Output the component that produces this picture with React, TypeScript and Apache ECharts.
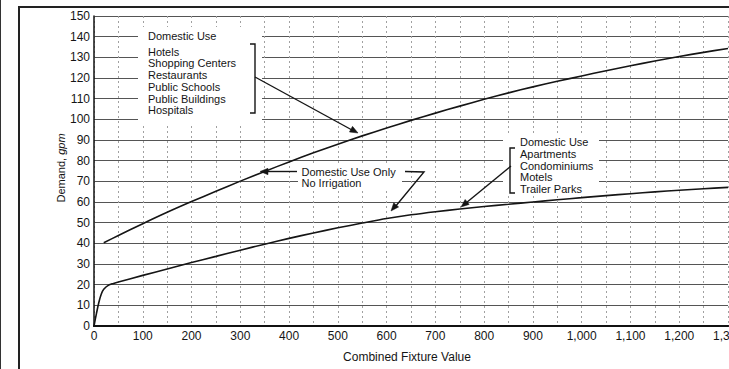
import React, { useEffect, useRef } from "react";
import * as echarts from "echarts";

const upperX = [20, 50, 100, 150, 200, 250, 300, 350, 400, 450, 500, 550, 600, 650, 700, 750, 800, 850, 900, 950, 1000, 1050, 1100, 1150, 1200, 1250, 1300];
const upperY = [40.3, 43.8, 49.5, 55, 60.2, 65.2, 70.1, 74.8, 79.4, 83.8, 88, 92, 95.8, 99.5, 103, 106.4, 109.7, 112.8, 115.7, 118.4, 121, 123.5, 125.9, 128.2, 130.4, 132.4, 134.3];

const lowerX = [0, 5, 10, 15, 20, 30, 40, 50, 100, 150, 200, 250, 300, 350, 400, 450, 500, 550, 600, 650, 700, 750, 800, 850, 900, 950, 1000, 1050, 1100, 1150, 1200, 1250, 1300];
const lowerY = [0, 6, 11.5, 15.5, 17.8, 19.8, 20.6, 21.3, 24.5, 27.6, 30.7, 33.7, 36.7, 39.6, 42.4, 45, 47.5, 49.8, 52, 53.8, 55.3, 56.6, 57.8, 58.9, 60, 61.1, 62.1, 63.1, 64, 64.9, 65.7, 66.4, 67.1];

const leftGroup = ["Domestic Use", "Hotels", "Shopping Centers", "Restaurants", "Public Schools", "Public Buildings", "Hospitals"];
const rightGroup = ["Domestic Use", "Apartments", "Condominiums", "Motels", "Trailer Parks"];
const middleLabel = ["Domestic Use Only", "No Irrigation"];

const FONT = "'Liberation Sans', Arial, Helvetica, sans-serif";
const INK = "#151515";

function arrowHead(x1: number, y1: number, x2: number, y2: number) {
  const ang = Math.atan2(y2 - y1, x2 - x1);
  const len = 8, half = 3.2;
  const bx = x2 - Math.cos(ang) * len, by = y2 - Math.sin(ang) * len;
  const px = -Math.sin(ang) * half, py = Math.cos(ang) * half;
  return {
    type: "polygon", z: 20,
    shape: { points: [[x2, y2], [bx + px, by + py], [bx - px, by - py]] },
    style: { fill: INK, stroke: INK, lineWidth: 0.5 },
  };
}
function seg(pts: number[][], w = 1.4) {
  return { type: "polyline", z: 20, shape: { points: pts }, style: { stroke: INK, lineWidth: w, fill: null } };
}
function txt(x: number, y: number, text: string, size = 11) {
  return {
    type: "text", z: 25, x, y,
    style: { text, fill: INK, font: `${size}px ${FONT}`, textAlign: "left", textVerticalAlign: "middle" },
  };
}
function white(x: number, y: number, w: number, h: number) {
  return { type: "rect", z: 1, shape: { x, y, width: w, height: h }, style: { fill: "#fff" } };
}

export default function App() {
  const ref = useRef<HTMLDivElement>(null);
  useEffect(() => {
    if (!ref.current) return;
    const chart = echarts.init(ref.current, null, { renderer: "svg" });
    const graphics: any[] = [
      { type: "line", z: 30, shape: { x1: 0.5, y1: 0, x2: 0.5, y2: 369 }, style: { stroke: "#333", lineWidth: 1 } },
      { type: "line", z: 30, shape: { x1: 19, y1: 6, x2: 19, y2: 369 }, style: { stroke: "#222", lineWidth: 2 } },
      { type: "line", z: 30, shape: { x1: 18, y1: 7, x2: 729, y2: 7 }, style: { stroke: "#222", lineWidth: 2 } },
      white(138, 27, 124, 98),
      white(503, 133, 96, 61),
      white(298, 164, 104, 24),
      seg([[250, 44], [255, 44], [255, 113], [250, 113]], 1.4),
      seg([[515, 148], [510, 148], [510, 193], [515, 193]], 1.4),
      seg([[255, 77], [352, 130]]),
      arrowHead(255, 77, 358, 133),
      seg([[297, 171.5], [266, 171.5]]),
      arrowHead(297, 171.5, 260, 171.5),
      seg([[405, 171.5], [424, 172], [395, 207]]),
      arrowHead(424, 172, 391, 211),
      seg([[511, 166], [466, 203]]),
      arrowHead(511, 166, 461, 207),
      {
        type: "text", z: 25, x: 61, y: 168, rotation: Math.PI / 2,
        style: {
          text: "{n|Demand, }{i|gpm}", textAlign: "center", textVerticalAlign: "middle",
          rich: {
            n: { fontSize: 11, fontFamily: FONT, fill: INK, color: INK },
            i: { fontSize: 11, fontFamily: FONT, fontStyle: "italic", fill: INK, color: INK },
          },
        },
      },
      {
        type: "text", z: 25, x: 407, y: 357,
        style: { text: "Combined Fixture Value", fill: INK, font: `12px ${FONT}`, textAlign: "center", textVerticalAlign: "middle" },
      },
    ];
    const leftYs = [35.7, 51.7, 63.3, 75, 86.7, 98.7, 110];
    leftGroup.forEach((t, i) => graphics.push(txt(148, leftYs[i], t)));
    const rightYs = [141.7, 154.3, 165.7, 177.3, 188.7];
    rightGroup.forEach((t, i) => graphics.push(txt(520, rightYs[i], t)));
    middleLabel.forEach((t, i) => graphics.push(txt(301.5, 171.7 + i * 10.8, t)));

    chart.setOption({
      animation: false,
      grid: { left: 94, top: 16, width: 634, height: 310, containLabel: false, outerBoundsMode: "none" },
      xAxis: [
        {
          type: "value", min: 0, max: 1300, interval: 50,
          axisLine: { show: true, onZero: false, lineStyle: { color: "#111", width: 2 } },
          axisTick: { show: false },
          axisLabel: {
            margin: 4, color: INK, fontSize: 12, fontFamily: FONT, hideOverlap: false,
            formatter: (v: number) => (v % 100 === 0 ? v.toLocaleString("en-US") : ""),
          },
          splitLine: { show: true, lineStyle: { color: "#a0a0a0", width: 1, type: [2, 3] } },
        },
        {
          type: "value", position: "top", min: 0, max: 1300,
          axisLine: { show: true, lineStyle: { color: "#111", width: 2 } },
          axisTick: { show: false }, axisLabel: { show: false }, splitLine: { show: false },
        },
      ],
      yAxis: {
        type: "value", min: 0, max: 150, interval: 10,
        axisLine: { show: true, onZero: false, lineStyle: { color: "#111", width: 1.5 } },
        axisTick: { show: false },
        axisLabel: { margin: 4, color: INK, fontSize: 12, fontFamily: FONT },
        splitLine: { show: true, lineStyle: { color: "#555", width: 1 } },
      },
      series: [
        {
          type: "line", xAxisIndex: 0, showSymbol: false, symbol: "none", smooth: 0.3,
          data: upperX.map((x, i) => [x, upperY[i]]),
          lineStyle: { color: INK, width: 1.6 }, z: 5,
        },
        {
          type: "line", xAxisIndex: 0, showSymbol: false, symbol: "none", smooth: 0.3,
          data: lowerX.map((x, i) => [x, lowerY[i]]),
          lineStyle: { color: INK, width: 1.6 }, z: 5,
        },
      ],
      graphic: graphics,
    });
    return () => chart.dispose();
  }, []);
  return (
    <div
      ref={ref}
      style={{ position: "fixed", left: 0, top: 0, width: 729, height: 369, background: "#fff" }}
    />
  );
}
